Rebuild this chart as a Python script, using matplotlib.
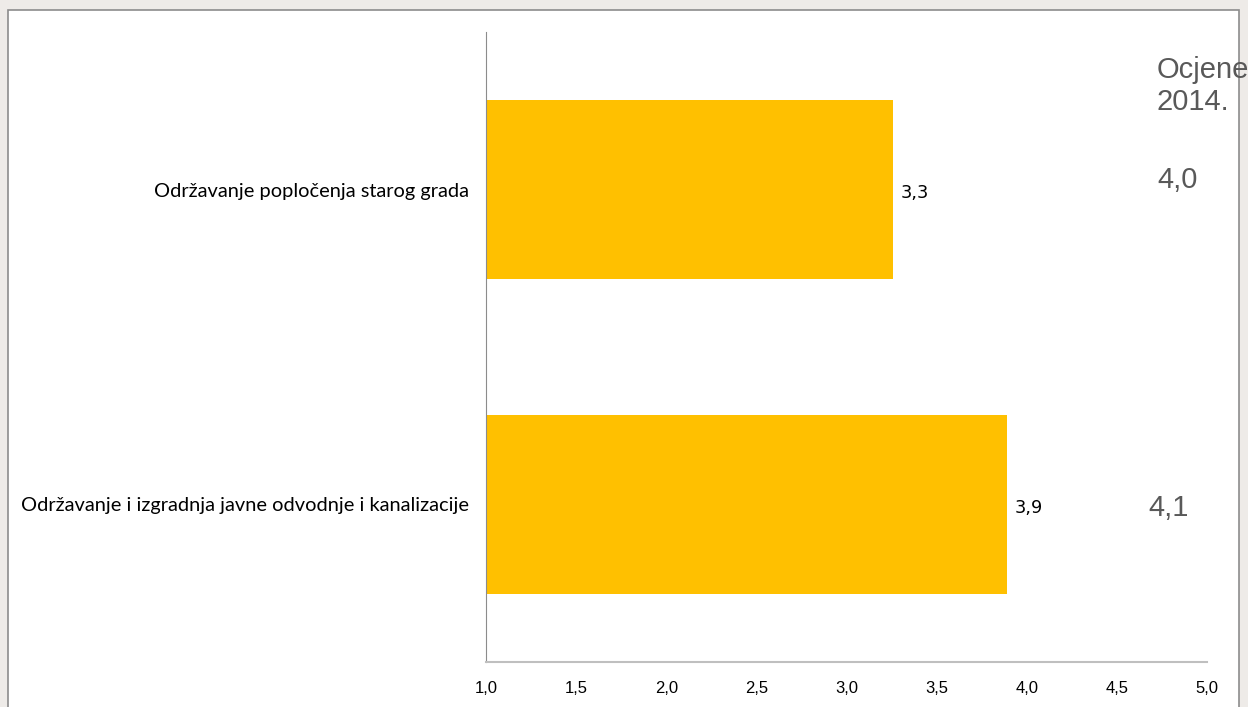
import matplotlib.pyplot as plt
from matplotlib.patches import Rectangle

# data
categories = ['Održavanje i izgradnja javne odvodnje i kanalizacije',
              'Održavanje popločenja starog grada']
values = [3.89, 3.26]
scores_2014 = ['4,1', '4,0']
ticks = [1.0, 1.5, 2.0, 2.5, 3.0, 3.5, 4.0, 4.5, 5.0]

W, H = 1248, 707
fig = plt.figure(figsize=(W / 100, H / 100), dpi=100, facecolor='#EEEBE8')

# white slide panel with a thin grey border
panel = Rectangle((8 / W, -0.05), (1239 - 8) / W, 1 - 10 / H + 0.05,
                  transform=fig.transFigure, facecolor='white',
                  edgecolor='#8C8C8C', linewidth=1.2, zorder=-5)
fig.patches.append(panel)

ax = fig.add_axes([486 / W, 45 / H, (1207 - 486) / W, 630 / H])
ax.set_facecolor('none')

pos = list(range(len(categories)))
ax.barh(pos, [v - 1.0 for v in values], left=1.0, height=0.57, color='#FFC000')

for p, v in zip(pos, values):
    ax.text(v + 0.04, p - 0.01, f'{v:.1f}'.replace('.', ','), va='center', ha='left',
            fontsize=12.8, family='DejaVu Sans', color='black')

ax.set_xlim(1.0, 5.0)
ax.set_ylim(-0.5, 1.5)
ax.set_xticks(ticks)
ax.set_xticklabels([f'{t:.1f}'.replace('.', ',') for t in ticks],
                   family=['Liberation Sans Narrow', 'Liberation Sans'], fontsize=12)
ax.set_yticks(pos)
ax.set_yticklabels(categories, family='Lato', fontsize=14.4)
ax.tick_params(axis='both', length=0)
ax.tick_params(axis='x', pad=14)
ax.tick_params(axis='y', pad=12)

for s in ['top', 'right']:
    ax.spines[s].set_visible(False)
ax.spines['left'].set_color('#8C8C8C')
ax.spines['left'].set_linewidth(0.8)
ax.spines['bottom'].set_color('#BFBFBF')
ax.spines['bottom'].set_linewidth(1.5)

# 2014 scores at the right
grey = '#595959'
fig.text(1157 / W, 1 - 86 / H, 'Ocjene\n2014.', ha='left', va='center',
         fontsize=21, family='Liberation Sans', color=grey, linespacing=1.15)
fig.text(1157 / W, 1 - 180 / H, scores_2014[1], ha='left', va='center',
         fontsize=21, family='Liberation Sans', color=grey)
fig.text(1148 / W, 1 - 508 / H, scores_2014[0], ha='left', va='center',
         fontsize=21, family='Liberation Sans', color=grey)

fig.savefig('out.png', dpi=100, facecolor=fig.get_facecolor())
